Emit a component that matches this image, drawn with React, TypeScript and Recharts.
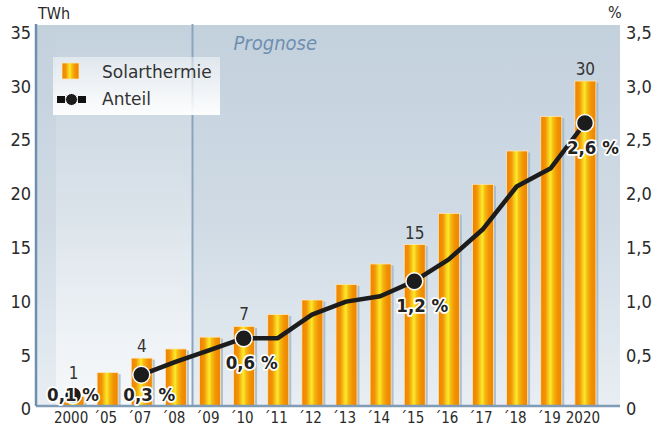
import React from 'react';
import {
  ComposedChart,
  Bar,
  Line,
  XAxis,
  YAxis,
  CartesianGrid,
  ReferenceLine,
  ReferenceArea,
  LabelList,
  Legend,
  Label,
} from 'recharts';

const categories = ['2000', '´05', '´07', '´08', '´09', '´10', '´11', '´12', '´13', '´14', '´15', '´16', '´17', '´18', '´19', '2020'];
const solarthermieTWh = [0.9, 3.1, 4.45, 5.3, 6.4, 7.4, 8.5, 9.85, 11.3, 13.2, 15.0, 17.9, 20.6, 23.7, 26.9, 30.2];
const anteilPercent = [0.1, null, 0.29, 0.41, 0.52, 0.63, 0.63, 0.85, 0.97, 1.02, 1.16, 1.36, 1.64, 2.04, 2.21, 2.63];
const barValueLabels = ['1', null, '4', null, null, '7', null, null, null, null, '15', null, null, null, null, '30'];
const anteilLabels = ['0,1 %', null, '0,3 %', null, null, '0,6 %', null, null, null, null, '1,2 %', null, null, null, null, '2,6 %'];
const leftTicks = [0, 5, 10, 15, 20, 25, 30, 35];
const rightTicks = [0, 0.5, 1, 1.5, 2, 2.5, 3, 3.5];
const forecastStart = '´09';
const historyEnd = '´08';

const data = categories.map((cat, i) => ({
  cat,
  twh: solarthermieTWh[i],
  pct: anteilPercent[i],
  barLabel: barValueLabels[i],
  pctLabel: anteilLabels[i],
}));

const FONT = "'DejaVu Sans Condensed', 'DejaVu Sans', sans-serif";
const TEXT = '#2a2a2a';

const BarShape = (props: any) => {
  const { x, y, width, height } = props;
  if (!height || height <= 0) return <g />;
  return (
    <g>
      <rect x={x + 2.5} y={y + 1.5} width={width} height={height - 1.5} fill="#9cb2c6" opacity={0.75} />
      <rect x={x} y={y} width={width} height={height} fill="url(#barGrad)" stroke="#fde6b8" strokeWidth={0.8} />
    </g>
  );
};

const renderDot = (props: any) => {
  const { cx, cy, index, payload } = props;
  if (!payload || !payload.pctLabel || cy == null) return <g key={`d${index}`} />;
  return <circle key={`d${index}`} cx={cx} cy={cy} r={8.5} fill="#1c1c1c" stroke="#ffffff" strokeWidth={1.5} />;
};

const BarValueLabel = (props: any) => {
  const { x, y, width, value } = props;
  if (!value) return null;
  const ty = Math.min(y - 6, 379);
  return (
    <text x={x + width / 2} y={ty} textAnchor="middle" fontFamily={FONT} fontSize={17} fill="#333">
      {value}
    </text>
  );
};

const PctLabel = (props: any) => {
  const { x, y, value } = props;
  if (!value) return null;
  const near = y + 24 > 400;
  const ty = Math.min(y + 24, 394);
  const tx = near ? x : x + 8;
  return (
    <text
      x={tx}
      y={ty}
      dy="0.36em"
      textAnchor="middle"
      fontFamily={FONT}
      fontWeight="bold"
      fontSize={18.5}
      fill="#222"
      stroke="#ffffff"
      strokeWidth={3.5}
      strokeLinejoin="round"
      paintOrder="stroke"
    >
      {value}
    </text>
  );
};

const LeftTick = (props: any) => {
  const { x, y, payload } = props;
  return (
    <text x={x} y={y + 3} dy="0.36em" textAnchor="end" fontFamily={FONT} fontSize={18} fill={TEXT}>
      {String(payload.value)}
    </text>
  );
};

const fmtPct = (v: number) => (v === 0 ? '0' : v.toFixed(1).replace('.', ','));

const RightTick = (props: any) => {
  const { x, y, payload } = props;
  return (
    <text x={x} y={y + 3} dy="0.36em" textAnchor="start" fontFamily={FONT} fontSize={18} fill={TEXT}>
      {fmtPct(payload.value)}
    </text>
  );
};

const XTick = (props: any) => {
  const { x, y, payload } = props;
  return (
    <text x={x - 2} y={y} dy="0.78em" textAnchor="middle" fontFamily={FONT} fontSize={15} fill={TEXT}>
      {payload.value}
    </text>
  );
};

const PrognoseLabel = (props: any) => {
  const vb = props.viewBox || { x: 0, y: 0 };
  return (
    <text x={vb.x + 41} y={vb.y + 26} fontFamily={FONT} fontStyle="italic" fontSize={20} fill="#6f8fb0">
      Prognose
    </text>
  );
};

const UnitLeft = (props: any) => {
  const vb = props.viewBox || { x: 0, y: 0 };
  return (
    <text x={vb.x + 38} y={vb.y - 5} fontFamily={FONT} fontSize={16} fill={TEXT}>
      TWh
    </text>
  );
};

const UnitRight = (props: any) => {
  const vb = props.viewBox || { x: 0, y: 0 };
  return (
    <text x={vb.x - 12} y={vb.y - 6} fontFamily={FONT} fontSize={16} fill={TEXT}>
      %
    </text>
  );
};

const LegendContent = () => (
  <svg width={167} height={58} style={{ display: 'block' }}>
    <rect x={0} y={0} width={167} height={58} fill="url(#legendGrad)" />
    <rect x={9} y={6} width={17} height={16} fill="url(#barGrad)" stroke="#fde6b8" strokeWidth={0.8} />
    <text x={49} y={15} dy="0.36em" fontFamily="'DejaVu Sans', sans-serif" fontSize={17} fill="#333">
      Solarthermie
    </text>
    <rect x={4} y={39} width={8} height={7} fill="#111" />
    <rect x={25} y={39} width={8} height={7} fill="#111" />
    <line x1={8} y1={42.5} x2={29} y2={42.5} stroke="#111" strokeWidth={3} />
    <circle cx={18.5} cy={42.5} r={6} fill="#1c1c1c" stroke="#fff" strokeWidth={1} />
    <text x={49} y={42} dy="0.36em" fontFamily="'DejaVu Sans', sans-serif" fontSize={17} fill="#333">
      Anteil
    </text>
  </svg>
);

export default function App() {
  return (
    <div style={{ position: 'absolute', left: 0, top: 0, width: 658, height: 426, background: '#ffffff' }}>
      <svg width={0} height={0} style={{ position: 'absolute' }}>
        <defs>
          <linearGradient id="barGrad" x1="0" y1="0" x2="1" y2="0">
            <stop offset="0" stopColor="#ee8200" />
            <stop offset="0.22" stopColor="#f29406" />
            <stop offset="0.38" stopColor="#f8cf1c" />
            <stop offset="0.47" stopColor="#fbe930" />
            <stop offset="0.58" stopColor="#f6bd10" />
            <stop offset="0.78" stopColor="#f29204" />
            <stop offset="1" stopColor="#ee8400" />
          </linearGradient>
          <linearGradient id="bgGrad" x1="0" y1="0" x2="0" y2="1">
            <stop offset="0" stopColor="#c3d1dd" />
            <stop offset="0.5" stopColor="#cfdae4" />
            <stop offset="1" stopColor="#e8eef3" />
          </linearGradient>
          <linearGradient id="histGrad" x1="0" y1="0" x2="0" y2="1">
            <stop offset="0" stopColor="#ffffff" stopOpacity={0} />
            <stop offset="0.5" stopColor="#ffffff" stopOpacity={0.25} />
            <stop offset="1" stopColor="#ffffff" stopOpacity={0.6} />
          </linearGradient>
          <linearGradient id="legendGrad" x1="0" y1="0" x2="0" y2="1">
            <stop offset="0" stopColor="#ffffff" stopOpacity={0.45} />
            <stop offset="1" stopColor="#ffffff" stopOpacity={0.95} />
          </linearGradient>
        </defs>
      </svg>
      <ComposedChart width={658} height={426} data={data} margin={{ top: 24, right: 0, bottom: 0, left: 0 }}>
        <CartesianGrid vertical={false} stroke="#ffffff" strokeWidth={2} fill="url(#bgGrad)" fillOpacity={1} />
        <XAxis
          dataKey="cat"
          type="category"
          height={20}
          padding={{ left: 20, right: 18 }}
          tickLine={false}
          tickSize={0}
          tickMargin={5}
          interval={0}
          axisLine={{ stroke: '#7f9bb5', strokeWidth: 2.5 }}
          tick={<XTick />}
        />
        <YAxis
          yAxisId="left"
          width={36}
          domain={[0, 35.5]}
          ticks={leftTicks}
          interval={0}
          tickLine={false}
          tickSize={0}
          tickMargin={5}
          axisLine={{ stroke: '#6f8fae', strokeWidth: 2.5 }}
          tick={<LeftTick />}
        >
          <Label content={<UnitLeft />} />
        </YAxis>
        <YAxis
          yAxisId="right"
          orientation="right"
          width={38}
          domain={[0, 3.55]}
          ticks={rightTicks}
          interval={0}
          tickLine={false}
          tickSize={0}
          tickMargin={6}
          axisLine={false}
          tick={<RightTick />}
        >
          <Label content={<UnitRight />} />
        </YAxis>
        <ReferenceArea yAxisId="left" x2={historyEnd} fill="url(#histGrad)" fillOpacity={1} stroke="none" />
        <ReferenceLine
          yAxisId="left"
          x={forecastStart}
          position="start"
          stroke="#8aa6bf"
          strokeWidth={2}
          label={<PrognoseLabel />}
        />
        <Bar yAxisId="left" dataKey="twh" name="Solarthermie" barSize={21} shape={<BarShape />} isAnimationActive={false}>
          <LabelList dataKey="barLabel" content={<BarValueLabel />} />
        </Bar>
        <Line
          yAxisId="right"
          dataKey="pct"
          stroke="none"
          dot={false}
          activeDot={false}
          legendType="none"
          isAnimationActive={false}
        >
          <LabelList dataKey="pctLabel" content={<PctLabel />} />
        </Line>
        <Line
          yAxisId="right"
          dataKey="pct"
          name="Anteil"
          type="linear"
          stroke="#1c1c1c"
          strokeWidth={4.5}
          strokeLinejoin="round"
          connectNulls={false}
          dot={renderDot}
          activeDot={false}
          isAnimationActive={false}
        />
        <Legend
          layout="vertical"
          align="center"
          verticalAlign="middle"
          content={<LegendContent />}
          wrapperStyle={{ left: 53, top: 57, width: 167, height: 58 }}
        />
      </ComposedChart>
    </div>
  );
}
